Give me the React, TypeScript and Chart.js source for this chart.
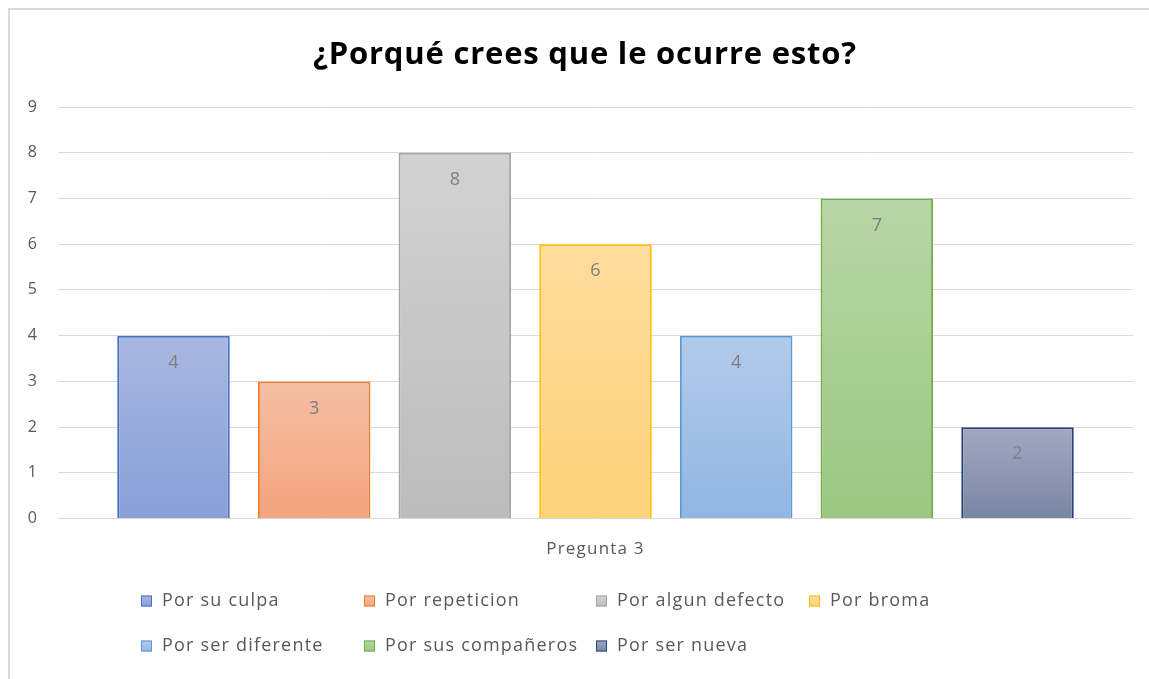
import React, { useEffect, useRef } from "react";
import { Chart, registerables } from "chart.js";

Chart.register(...registerables);

const titleText = "¿Porqué crees que le ocurre esto?";
const categories = ["Pregunta 3"];
const seriesNames = [
  "Por su culpa",
  "Por repeticion",
  "Por algun defecto",
  "Por broma",
  "Por ser diferente",
  "Por sus compañeros",
  "Por ser nueva",
];
const seriesValues = [4, 3, 8, 6, 4, 7, 2];
const topColors = ["#a9b7e1", "#f5bfa4", "#d2d2d2", "#ffdc9d", "#b3cbea", "#b8d6a7", "#a3a8c0"];
const bottomColors = ["#889fd7", "#f4a37e", "#bcbcbc", "#fdd27a", "#90b6e2", "#9bc782", "#7a85a5"];
const borderColors = ["#4472c4", "#ed7d31", "#a5a5a5", "#ffc000", "#5b9bd5", "#70ad47", "#264478"];
const yMin = 0;
const yMax = 9;

const FONT = "'Open Sans', 'DejaVu Sans', sans-serif";
const TEXT_GRAY = "#595959";
const SPACING = "1.2px";

const spacingPlugin = {
  id: "spacing",
  beforeUpdate(chart: any) {
    chart.ctx.letterSpacing = SPACING;
  },
  beforeDraw(chart: any) {
    chart.ctx.letterSpacing = SPACING;
  },
};

const titlePlugin = {
  id: "customTitle",
  afterDraw(chart: any) {
    const ctx = chart.ctx;
    ctx.save();
    ctx.letterSpacing = "0.8px";
    ctx.font = `bold 31px ${FONT}`;
    ctx.fillStyle = "#000000";
    ctx.textAlign = "center";
    ctx.textBaseline = "middle";
    ctx.fillText(titleText, chart.width / 2, 45);
    ctx.restore();
  },
};

const dataLabelPlugin = {
  id: "dataLabels",
  afterDatasetsDraw(chart: any) {
    const ctx = chart.ctx;
    ctx.save();
    ctx.letterSpacing = "0px";
    ctx.font = `18px ${FONT}`;
    ctx.fillStyle = "#7f7f7f";
    ctx.textAlign = "center";
    ctx.textBaseline = "middle";
    chart.data.datasets.forEach((ds: any, i: number) => {
      const meta = chart.getDatasetMeta(i);
      meta.data.forEach((el: any, j: number) => {
        ctx.fillText(String(ds.data[j]), el.x, el.y + 27);
      });
    });
    ctx.restore();
  },
};

const legendCols = [131, 354, 586, 799];
const legendRows = [591, 636];

const customLegendPlugin = {
  id: "customLegend",
  afterDraw(chart: any) {
    const ctx = chart.ctx;
    ctx.save();
    ctx.letterSpacing = SPACING;
    ctx.font = `18px ${FONT}`;
    ctx.textBaseline = "middle";
    ctx.textAlign = "left";
    chart.data.datasets.forEach((ds: any, i: number) => {
      const row = Math.floor(i / 4);
      const col = i % 4;
      const x = legendCols[col];
      const y = legendRows[row];
      const g = ctx.createLinearGradient(0, y - 5.5, 0, y + 5.5);
      g.addColorStop(0, topColors[i]);
      g.addColorStop(1, bottomColors[i]);
      ctx.fillStyle = g;
      ctx.fillRect(x, y - 5.5, 11, 11);
      ctx.strokeStyle = borderColors[i];
      ctx.lineWidth = 1;
      ctx.strokeRect(x + 0.5, y - 5, 10, 10);
      ctx.fillStyle = TEXT_GRAY;
      ctx.fillText(ds.label, x + 21, y);
    });
    ctx.restore();
  },
};

export default function App() {
  const canvasRef = useRef<HTMLCanvasElement>(null);

  useEffect(() => {
    if (!canvasRef.current) return;
    const datasets = seriesNames.map((name, i) => ({
      label: name,
      data: [seriesValues[i]],
      backgroundColor: (context: any) => {
        const chart = context.chart;
        const yScale = chart.scales?.y;
        if (!chart.chartArea || !yScale) return topColors[i];
        const v = seriesValues[i];
        const top = yScale.getPixelForValue(v);
        const bottom = yScale.getPixelForValue(0);
        const g = chart.ctx.createLinearGradient(0, top, 0, bottom);
        g.addColorStop(0, topColors[i]);
        g.addColorStop(1, bottomColors[i]);
        return g;
      },
      borderColor: borderColors[i],
      borderWidth: 2,
      categoryPercentage: 0.916,
      barPercentage: 0.8,
    }));

    const chart = new Chart(canvasRef.current, {
      type: "bar",
      data: { labels: categories, datasets },
      options: {
        animation: false,
        responsive: false,
        maintainAspectRatio: false,
        layout: { padding: { left: 0, right: 27, top: 97, bottom: 100 } },
        plugins: {
          legend: { display: false },
          tooltip: { enabled: false },
          title: { display: false },
        },
        scales: {
          x: {
            grid: { display: false, drawTicks: false },
            border: { display: false },
            ticks: {
              color: TEXT_GRAY,
              font: { family: FONT, size: 17 },
              padding: 20,
            },
          },
          y: {
            min: yMin,
            max: yMax,
            grid: { color: "#d9d9d9", lineWidth: 1, drawTicks: false },
            border: { display: false },
            afterFit: (scale: any) => {
              scale.width = 48;
            },
            ticks: {
              stepSize: 1,
              color: TEXT_GRAY,
              font: { family: FONT, size: 16 },
              padding: 20,
            },
          },
        },
      },
      plugins: [spacingPlugin, titlePlugin, dataLabelPlugin, customLegendPlugin],
    });
    return () => chart.destroy();
  }, []);

  return (
    <div
      style={{
        position: "fixed",
        left: 0,
        top: 0,
        width: 1149,
        height: 679,
        overflow: "hidden",
        background: "#ffffff",
      }}
    >
      <div
        style={{
          position: "absolute",
          left: 8,
          top: 8,
          width: 1160,
          height: 690,
          borderTop: "2px solid #d9d9d9",
          borderLeft: "2px solid #d9d9d9",
        }}
      />
      <canvas
        ref={canvasRef}
        width={1150}
        height={669}
        style={{ position: "absolute", left: 10, top: 10, width: 1150, height: 669 }}
      />
    </div>
  );
}
